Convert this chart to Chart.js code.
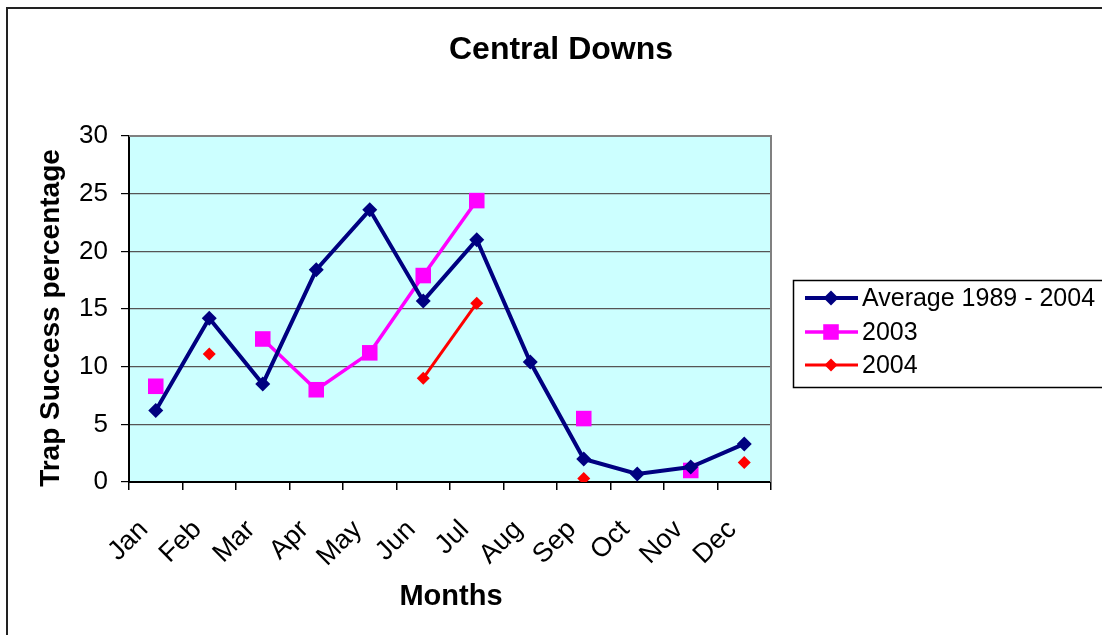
<!DOCTYPE html>
<html>
<head>
<meta charset="utf-8">
<script src="https://cdn.jsdelivr.net/npm/chart.js@4"></script>
<style>
  html, body { margin: 0; padding: 0; background: #fff; overflow: hidden; }
  #wrap { position: relative; width: 1102px; height: 635px; }
</style>
</head>
<body>
<div id="wrap"><canvas id="c" width="1102" height="635"></canvas></div>
<script>
const chartTitle = 'Central Downs';
const xTitle = 'Months';
const yTitle = 'Trap Success percentage';
const months = ['Jan','Feb','Mar','Apr','May','Jun','Jul','Aug','Sep','Oct','Nov','Dec'];
const seriesNames = ['Average 1989 - 2004', '2003', '2004'];
const average = [6.2, 14.2, 8.5, 18.4, 23.6, 15.7, 21.0, 10.4, 2.0, 0.7, 1.3, 3.3];
const y2003 = [8.3, null, 12.4, 8.0, 11.2, 17.9, 24.4, null, 5.5, null, 1.0, null];
const y2004 = [null, 11.1, null, null, null, 9.0, 15.5, null, 0.3, null, null, 1.7];
const yTicks = [0, 5, 10, 15, 20, 25, 30];

const FONT = "'Liberation Sans', Arial, sans-serif";

const styles = [
  { color: '#000080', width: 4, point: 'rectRot', radius: 7.5 },
  { color: '#FF00FF', width: 3.5, point: 'rect', radius: 11 },
  { color: '#FF0000', width: 3, point: 'rectRot', radius: 6.5 }
];
const seriesData = [average, y2003, y2004];

function drawMarker(ctx, st, x, y) {
  ctx.save();
  ctx.fillStyle = st.color;
  ctx.beginPath();
  if (st.point === 'rect') {
    const s = Math.SQRT1_2 * st.radius;
    ctx.rect(x - s, y - s, 2 * s, 2 * s);
  } else {
    const r = st.radius;
    ctx.moveTo(x, y - r); ctx.lineTo(x + r, y); ctx.lineTo(x, y + r); ctx.lineTo(x - r, y);
    ctx.closePath();
  }
  ctx.fill();
  ctx.restore();
}

const decor = {
  id: 'decor',
  beforeDraw(chart) {
    const ctx = chart.ctx, a = chart.chartArea;
    ctx.save();
    ctx.fillStyle = '#fff';
    ctx.fillRect(0, 0, chart.width, chart.height);
    ctx.strokeStyle = '#222';
    ctx.lineWidth = 2;
    ctx.strokeRect(7, 8, 2000, 2000);
    ctx.fillStyle = '#CCFFFF';
    ctx.fillRect(a.left, a.top, a.right - a.left, a.bottom - a.top);
    ctx.fillStyle = '#000';
    ctx.textAlign = 'center';
    ctx.textBaseline = 'middle';
    ctx.font = 'bold 32px ' + FONT;
    ctx.fillText(chartTitle, 561, 50);
    ctx.font = 'bold 29px ' + FONT;
    ctx.fillText(xTitle, 451, 597);
    ctx.save();
    ctx.translate(51, 318);
    ctx.rotate(-Math.PI / 2);
    ctx.font = 'bold 28px ' + FONT;
    ctx.fillText(yTitle, 0, 0);
    ctx.restore();
    ctx.restore();
  },
  beforeDatasetsDraw(chart) {
    const ctx = chart.ctx, a = chart.chartArea;
    ctx.save();
    ctx.strokeStyle = '#808080';
    ctx.lineWidth = 2;
    ctx.beginPath();
    ctx.moveTo(a.left, a.top); ctx.lineTo(a.right, a.top); ctx.lineTo(a.right, a.bottom);
    ctx.stroke();
    ctx.restore();
  },
  afterDraw(chart) {
    const ctx = chart.ctx;
    ctx.save();
    ctx.fillStyle = '#fff';
    ctx.fillRect(793, 280, 330, 107);
    ctx.strokeStyle = '#000';
    ctx.lineWidth = 1.5;
    ctx.strokeRect(793.5, 280.5, 330, 107);
    const rows = [298, 332, 365];
    ctx.font = '25px ' + FONT;
    ctx.textBaseline = 'middle';
    ctx.textAlign = 'left';
    seriesNames.forEach((name, i) => {
      const st = styles[i], y = rows[i];
      ctx.strokeStyle = st.color;
      ctx.lineWidth = st.width;
      ctx.beginPath(); ctx.moveTo(805, y); ctx.lineTo(858, y); ctx.stroke();
      drawMarker(ctx, st, 831, y);
      ctx.fillStyle = '#000';
      ctx.fillText(name, 862, y + 1);
    });
    ctx.restore();
  }
};

new Chart(document.getElementById('c'), {
  type: 'line',
  data: {
    labels: months,
    datasets: seriesData.map((d, i) => ({
      label: seriesNames[i],
      data: d,
      borderColor: styles[i].color,
      backgroundColor: styles[i].color,
      borderWidth: styles[i].width,
      pointStyle: styles[i].point,
      pointRadius: styles[i].radius,
      pointBorderWidth: 0,
      pointBackgroundColor: styles[i].color,
      pointBorderColor: styles[i].color,
      tension: 0,
      spanGaps: false,
      fill: false
    }))
  },
  options: {
    responsive: false,
    animation: false,
    devicePixelRatio: 1,
    layout: { padding: { left: 0, top: 136, right: 331, bottom: 0 } },
    plugins: { legend: { display: false }, title: { display: false }, tooltip: { enabled: false } },
    scales: {
      x: {
        type: 'category',
        offset: true,
        afterFit(s) { s.height = 153; },
        grid: { offset: true, drawOnChartArea: false, tickLength: 8, color: '#000', lineWidth: 1.5 },
        border: { color: '#000', width: 2 },
        ticks: { color: '#000', font: { family: FONT, size: 27 }, minRotation: 45, maxRotation: 45, autoSkip: false, padding: 24, labelOffset: -12 }
      },
      y: {
        min: 0, max: 30,
        afterFit(s) { s.width = 129; },
        afterBuildTicks(s) { s.ticks = yTicks.map(v => ({ value: v })); },
        grid: { color: '#555', lineWidth: 1.2, tickLength: 8, tickColor: '#000' },
        border: { color: '#000', width: 2 },
        ticks: { color: '#000', font: { family: FONT, size: 26 }, padding: 13 }
      }
    }
  },
  plugins: [decor]
});
</script>
</body>
</html>
